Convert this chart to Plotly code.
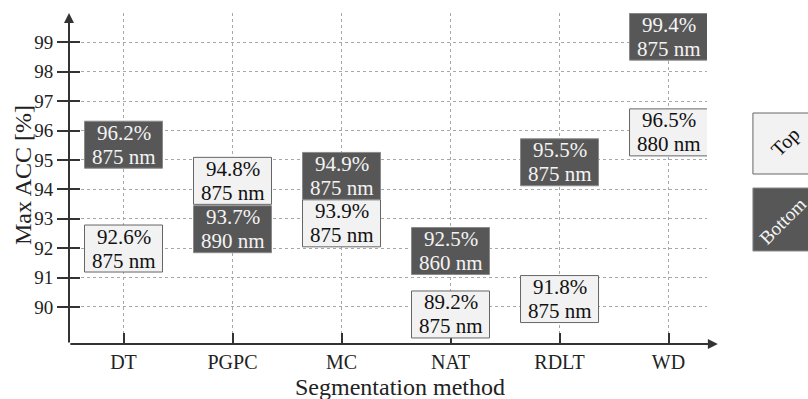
import plotly.graph_objects as go

methods = ["DT", "PGPC", "MC", "NAT", "RDLT", "WD"]
top_acc = [92.6, 94.8, 93.9, 89.2, 91.8, 96.5]
top_nm = [875, 875, 875, 875, 875, 880]
bottom_acc = [96.2, 93.7, 94.9, 92.5, 95.5, 99.4]
bottom_nm = [875, 890, 875, 860, 875, 875]
y_ticks = [90, 91, 92, 93, 94, 95, 96, 97, 98, 99]

# label placement offsets (pixels) to avoid overlaps
top_shift = [-18, -15, -31, 16, -45, -16.5]
bottom_shift = [-20, -31, -13, -17.5, -17, -6]

FONT = "Liberation Serif"
DARK = "#575757"
DARK_EDGE = "#8a8a8a"
LIGHT = "#f2f2f2"
LIGHT_EDGE = "#666666"
AX = "#333333"
GRID = "#a8a8a8"

fig = go.Figure()
fig.add_trace(go.Scatter(x=methods, y=top_acc, mode="markers",
                         marker=dict(opacity=0), hoverinfo="skip", showlegend=False))
fig.add_trace(go.Scatter(x=methods, y=bottom_acc, mode="markers", yaxis="y2",
                         marker=dict(opacity=0), hoverinfo="skip", showlegend=False))

ann = []
shapes = []


def add_label(i, acc, nm, shift, fill, border, color):
    shapes.append(dict(type="rect", xref="x", yref="y", xsizemode="pixel", ysizemode="pixel",
                       xanchor=i, yanchor=acc, x0=-39, x1=39, y0=shift - 23.5, y1=shift + 23.5,
                       fillcolor=fill, line=dict(color=border, width=1), layer="above"))
    for txt, dy in ((f"{acc}%", 12), (f"{nm} nm", -12)):
        ann.append(dict(x=methods[i], y=acc, xref="x", yref="y", yshift=shift + dy,
                        text=txt, showarrow=False, xanchor="center", yanchor="middle",
                        font=dict(family=FONT, size=21, color=color)))


for i in range(len(methods)):
    add_label(i, top_acc[i], top_nm[i], top_shift[i], LIGHT, LIGHT_EDGE, "#111")
    add_label(i, bottom_acc[i], bottom_nm[i], bottom_shift[i], DARK, DARK_EDGE, "#f4f4f4")

# axis arrows
ann.append(dict(x=0, y=1, xref="paper", yref="paper", ax=0, ay=331, axref="pixel", ayref="pixel",
                showarrow=True, arrowhead=2, arrowsize=1, arrowwidth=2, arrowcolor=AX, text=""))
ann.append(dict(x=1.017, y=0, xref="paper", yref="paper", ax=-649, ay=0,
                showarrow=True, arrowhead=2, arrowsize=1, arrowwidth=2, arrowcolor=AX, text=""))

# axis titles
ann.append(dict(x=(23 - 69) / 638, y=(344 - 175) / 331, xref="paper", yref="paper",
                text="Max ACC [%]", textangle=-90, showarrow=False,
                xanchor="center", yanchor="middle", font=dict(family=FONT, size=24, color="#222")))
ann.append(dict(x=(400 - 69) / 638, y=-(387 - 344) / 331, xref="paper", yref="paper",
                text="Segmentation method", showarrow=False,
                xanchor="center", yanchor="middle", font=dict(family=FONT, size=24, color="#222")))

# legend
shapes += [
    dict(type="rect", xref="paper", yref="paper", x0=1.072, x1=1.25, y0=(344 - 174) / 331,
         y1=(344 - 113) / 331, fillcolor=LIGHT, line=dict(color=LIGHT_EDGE, width=1)),
    dict(type="rect", xref="paper", yref="paper", x0=1.072, x1=1.25, y0=(344 - 251) / 331,
         y1=(344 - 188) / 331, fillcolor=DARK, line=dict(color=DARK_EDGE, width=1)),
]
ann.append(dict(x=(785 - 69) / 638, y=(344 - 142) / 331, xref="paper", yref="paper",
                text="Top", textangle=-45, xanchor="center", yanchor="middle",
                showarrow=False, font=dict(family=FONT, size=20, color="#111")))
ann.append(dict(x=(782 - 69) / 638, y=(344 - 221) / 331, xref="paper", yref="paper",
                text="Bottom", textangle=-45, xanchor="center", yanchor="middle",
                showarrow=False, font=dict(family=FONT, size=19, color="#f4f4f4")))

fig.update_layout(
    width=808, height=399,
    margin=dict(l=69, r=101, t=13, b=55),
    plot_bgcolor="white", paper_bgcolor="white",
    font=dict(family=FONT, size=20, color="#222"),
    xaxis=dict(range=[-0.5, 5.353], type="category", categoryorder="array", categoryarray=methods,
               ticks="inside", ticklen=11, tickwidth=2, tickcolor=AX, automargin=False,
               showgrid=True, gridcolor=GRID, griddash="dot", gridwidth=1,
               showline=False, zeroline=False, ticklabelstandoff=4),
    yaxis=dict(range=[88.74, 100], tickvals=y_ticks, ticks="outside", ticklen=11, tickwidth=2,
               tickcolor=AX, showgrid=True, gridcolor=GRID, griddash="dot", gridwidth=1,
               showline=False, zeroline=False, ticklabelstandoff=0, automargin=False,
               tickfont=dict(size=19)),
    yaxis2=dict(range=[88.74, 100], overlaying="y", tickvals=y_ticks, ticks="inside", ticklen=11,
                tickwidth=2, tickcolor=AX, showticklabels=False, showgrid=False, automargin=False,
                zeroline=False, showline=False, side="left"),
    annotations=ann, shapes=shapes, showlegend=False,
)

fig.write_html("out.html", config={"displayModeBar": False},
               post_script="document.body.style.margin='0';")
